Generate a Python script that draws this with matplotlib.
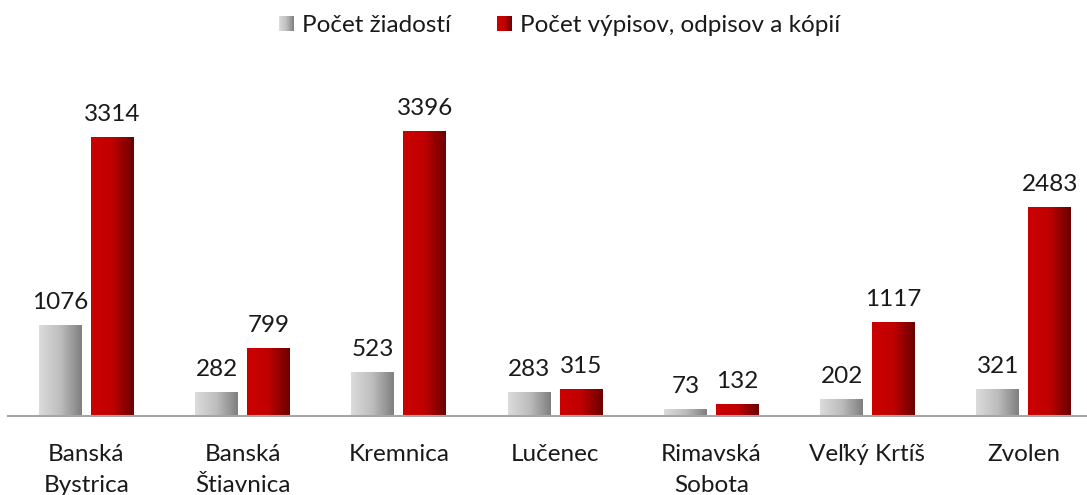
import numpy as np
import matplotlib
matplotlib.use("Agg")
import matplotlib.pyplot as plt
from matplotlib.patches import Rectangle
from matplotlib.legend_handler import HandlerBase
from matplotlib.colors import LinearSegmentedColormap

categories = ["Banská\nBystrica", "Banská\nŠtiavnica", "Kremnica", "Lučenec",
              "Rimavská\nSobota", "Veľký Krtíš", "Zvolen"]
ziadosti = [1076, 282, 523, 283, 73, 202, 321]
vypisy = [3314, 799, 3396, 315, 132, 1117, 2483]
series_names = ["Počet žiadostí", "Počet výpisov, odpisov a kópií"]

plt.rcParams['font.family'] = ['Lato', 'DejaVu Sans']
FS = 17.5

W, H = 1087, 495
fig = plt.figure(figsize=(W / 100, H / 100), dpi=100)
left_px, width_px = 8.4, 1093.4
bottom_px, height_px = 416, 335.6
ax = fig.add_axes([left_px / W, (H - bottom_px) / H, width_px / W, height_px / H])

grey_cmap = LinearSegmentedColormap.from_list("g", ["#dcdcdc", "#bdbdbd", "#7f7f7f"])
red_cmap = LinearSegmentedColormap.from_list("r", ["#cc0000", "#c00000", "#6a0000"])

x = np.arange(len(categories))
bw = 0.275
off = 0.166
b1 = ax.bar(x - off, ziadosti, bw, color="none", edgecolor="none")
b2 = ax.bar(x + off, vypisy, bw, color="none", edgecolor="none")

grad = np.linspace(0, 1, 256).reshape(1, -1)
for bars, cmap in ((b1, grey_cmap), (b2, red_cmap)):
    for r in bars:
        x0, y0 = r.get_x(), r.get_y()
        w, h = r.get_width(), r.get_height()
        ax.imshow(grad, cmap=cmap, extent=(x0, x0 + w, y0, y0 + h),
                  aspect="auto", interpolation="bilinear", zorder=2)
        ax.annotate(f"{int(h)}", (x0 + w / 2, y0 + h), xytext=(0, 9),
                    textcoords="offset points", ha="center", va="bottom",
                    fontsize=FS, color="#1a1a1a")

ax.set_xlim(-0.5, len(categories) - 0.5)
ax.set_ylim(0, 4000)
ax.set_xticks(x)
ax.set_xticklabels(categories, fontsize=FS, color="#1a1a1a", linespacing=1.6)
ax.tick_params(axis="x", length=0, pad=20)
ax.set_yticks([])
for s in ("top", "right", "left"):
    ax.spines[s].set_visible(False)
ax.spines["bottom"].set_color("#a6a6a6")
ax.spines["bottom"].set_linewidth(1.5)


class GradHandler(HandlerBase):
    def __init__(self, cmap):
        super().__init__()
        self.cmap = cmap

    def create_artists(self, legend, orig_handle, xdescent, ydescent, width,
                       height, fontsize, trans):
        arts = []
        n = 20
        side = width
        x0 = -xdescent
        y0 = -ydescent + (height - side) / 2
        for i in range(n):
            c = self.cmap((i + 0.5) / n)
            arts.append(Rectangle((x0 + i * side / n, y0), side / n * 1.05, side,
                                  facecolor=c, edgecolor="none", transform=trans))
        return arts


h1 = Rectangle((0, 0), 1, 1)
h2 = Rectangle((0, 0), 1, 1)
fig.legend([h1, h2], series_names, loc="center", bbox_to_anchor=(559.5 / W, 1 - 25.5 / H),
           ncol=2, frameon=False, fontsize=FS, handlelength=0.62, handletextpad=0.33,
           columnspacing=1.9, labelcolor="#1a1a1a",
           handler_map={h1: GradHandler(grey_cmap), h2: GradHandler(red_cmap)})

fig.savefig("out.png", dpi=100)
